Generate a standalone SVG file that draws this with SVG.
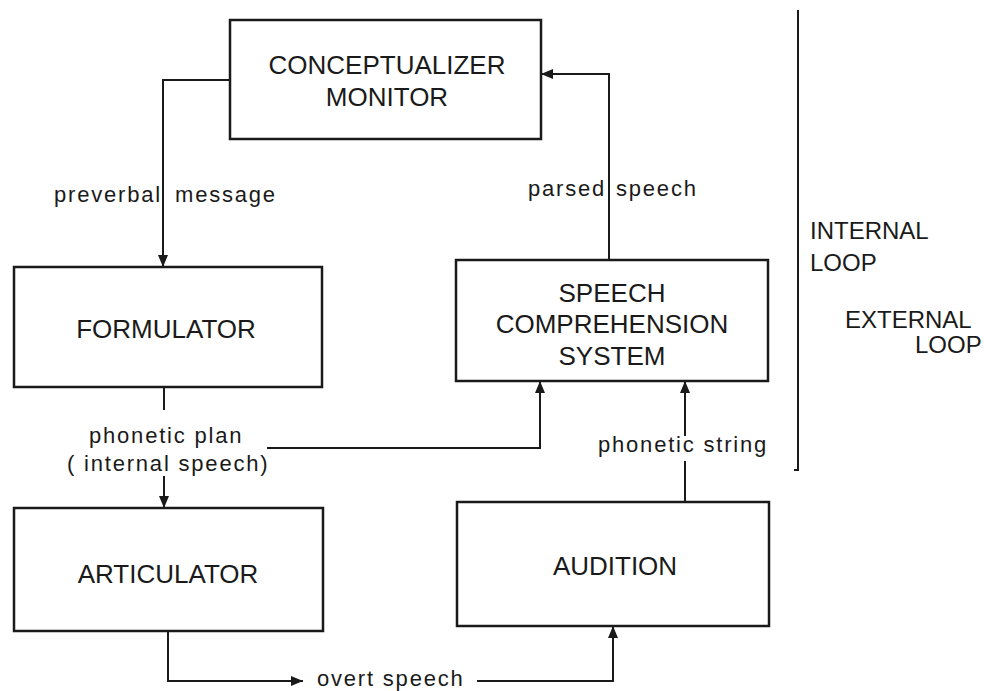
<svg xmlns="http://www.w3.org/2000/svg" width="984" height="691" viewBox="0 0 984 691">
  <style>
    .box { fill: #ffffff; stroke: #1a1a1a; stroke-width: 2.5; }
    .title { font-family: "Liberation Sans", Arial, sans-serif; font-size: 26px; fill: #1a1a1a; text-anchor: middle; }
    .lbl { font-family: "Liberation Sans", Arial, sans-serif; font-size: 22px; letter-spacing: 1.8px; fill: #1a1a1a; }
    .loop { font-family: "Liberation Sans", Arial, sans-serif; font-size: 24px; fill: #1a1a1a; }
    .wire { fill: none; stroke: #1a1a1a; stroke-width: 2; }
    .arr { marker-end: url(#head); }
  </style>
  <defs>
    <marker id="head" markerUnits="userSpaceOnUse" markerWidth="12" markerHeight="10" refX="12" refY="5" orient="auto">
      <path d="M0,0 L12,5 L0,10 z" fill="#1a1a1a"/>
    </marker>
  </defs>
  <rect width="984" height="691" fill="#ffffff"/>

  <!-- processing components -->
  <g id="conceptualizer">
    <rect class="box" x="230" y="20" width="311" height="119"/>
    <text class="title" x="387" y="74">CONCEPTUALIZER</text>
    <text class="title" x="387" y="106">MONITOR</text>
  </g>
  <g id="formulator">
    <rect class="box" x="14" y="267" width="308" height="120"/>
    <text class="title" x="166" y="338">FORMULATOR</text>
  </g>
  <g id="articulator">
    <rect class="box" x="14" y="508" width="309" height="123"/>
    <text class="title" x="168" y="583">ARTICULATOR</text>
  </g>
  <g id="comprehension">
    <rect class="box" x="456" y="260" width="312" height="121"/>
    <text class="title" x="612" y="302">SPEECH</text>
    <text class="title" x="612" y="333">COMPREHENSION</text>
    <text class="title" x="612" y="365">SYSTEM</text>
  </g>
  <g id="audition">
    <rect class="box" x="457" y="502" width="312" height="124"/>
    <text class="title" x="615" y="575">AUDITION</text>
  </g>

  <!-- connectors -->
  <g id="connectors">
    <path class="wire arr" d="M230,80 H163 V267"/>
    <path class="wire arr" d="M609,260 V74 H541"/>
    <path class="wire" d="M164,387 V410"/>
    <path class="wire arr" d="M164,476 V508"/>
    <path class="wire arr" d="M267,448 H540 V381"/>
    <path class="wire" d="M685,502 V461"/>
    <path class="wire arr" d="M685,436 V381"/>
    <path class="wire arr" d="M168,631 V681 H303"/>
    <path class="wire arr" d="M477,681 H613 V626"/>
  </g>

  <!-- connector labels -->
  <g id="labels">
    <text class="lbl" y="202"><tspan x="54">preverbal</tspan><tspan x="175">message</tspan></text>
    <text class="lbl" y="196"><tspan x="528">parsed</tspan><tspan x="616">speech</tspan></text>
    <text class="lbl" x="89" y="443">phonetic plan</text>
    <text class="lbl" x="67" y="471">( internal speech)</text>
    <text class="lbl" x="598" y="452">phonetic string</text>
    <text class="lbl" x="317" y="686">overt speech</text>
  </g>

  <!-- loop bracket -->
  <g id="loops">
    <path class="wire" d="M798,10 V470 H794"/>
    <text class="loop" x="810" y="239">INTERNAL</text>
    <text class="loop" x="810" y="271">LOOP</text>
    <text class="loop" x="845" y="328">EXTERNAL</text>
    <text class="loop" x="915" y="353">LOOP</text>
  </g>
</svg>
